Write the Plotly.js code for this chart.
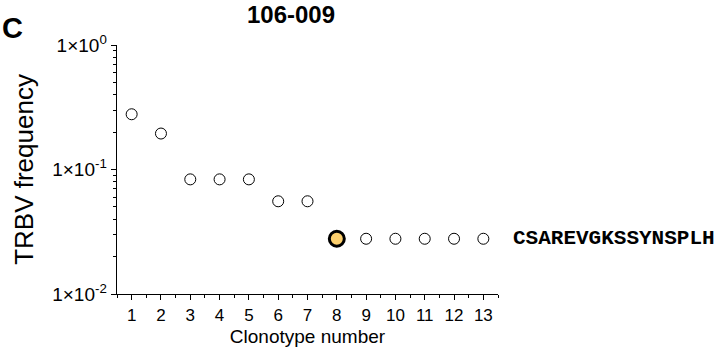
<!DOCTYPE html>
<html>
<head>
<meta charset="utf-8">
<script src="https://cdn.plot.ly/plotly-3.0.1.min.js"></script>
<style>html,body{margin:0;padding:0;background:#fff;}#chart{width:726px;height:349px;}</style>
</head>
<body>
<div id="chart"></div>
<script>
// Clonotype data (frequencies of 36 sequences)
var clonotypes = [1,2,3,4,5,6,7,8,9,10,11,12,13];
var frequency = [10/36, 7/36, 3/36, 3/36, 3/36, 2/36, 2/36, 1/36, 1/36, 1/36, 1/36, 1/36, 1/36];
var highlightIndex = 7; // clonotype 8
var highlightLabel = 'CSAREVGKSSYNSPLH';
var yTickVals = [1, 0.1, 0.01];
var yTickText = ['1×10<sup>0</sup>', '1×10<sup>-1</sup>', '1×10<sup>-2</sup>'];
var xTickVals = clonotypes;
var panelTitle = '106-009';
var panelLetter = 'C';

var otherX = [], otherY = [];
for (var i = 0; i < clonotypes.length; i++) {
  if (i !== highlightIndex) { otherX.push(clonotypes[i]); otherY.push(frequency[i]); }
}

var traces = [
  {
    x: otherX, y: otherY, type: 'scatter', mode: 'markers',
    marker: {symbol: 'circle', size: 11, color: 'white', line: {color: 'black', width: 1}},
    cliponaxis: false, hoverinfo: 'x+y'
  },
  {
    x: [clonotypes[highlightIndex]], y: [frequency[highlightIndex]], type: 'scatter', mode: 'markers',
    marker: {symbol: 'circle', size: 15, color: '#FDD06E', line: {color: 'black', width: 3}},
    cliponaxis: false, hoverinfo: 'x+y'
  }
];

// plot area in pixels: x 117..498, y 45..294
var plotL = 117, plotW = 381, plotB = 294, plotH = 249;

var layout = {
  width: 726, height: 349,
  margin: {l: 117, r: 228, t: 45, b: 55, pad: 0},
  paper_bgcolor: 'white', plot_bgcolor: 'white',
  showlegend: false,
  font: {family: 'Arial, Liberation Sans, sans-serif', color: 'black'},
  title: {
    text: '<b>' + panelTitle + '</b>',
    font: {size: 24, family: 'Arial, Liberation Sans, sans-serif', color: 'black'},
    xref: 'container', yref: 'container', x: 291/726, y: 1 - 15/349,
    xanchor: 'center', yanchor: 'middle'
  },
  xaxis: {
    range: [0.5, 13.5],
    tickmode: 'array', tickvals: xTickVals, ticktext: xTickVals.map(String),
    ticks: 'outside', ticklen: 5, tickwidth: 1, tickcolor: 'black',
    minor: {ticks: 'outside', ticklen: 3, tickwidth: 1, tickcolor: 'black', dtick: 0.5, tick0: 0.5},
    showline: true, linecolor: 'black', linewidth: 1.4,
    showgrid: false, zeroline: false,
    tickfont: {size: 17, family: 'Arial, Liberation Sans, sans-serif'},
    title: {text: 'Clonotype number', font: {size: 19, family: 'Arial, Liberation Sans, sans-serif'}, standoff: 6}
  },
  yaxis: {
    type: 'log', range: [-2, 0],
    tickmode: 'array', tickvals: yTickVals, ticktext: yTickText,
    ticks: 'outside', ticklen: 5, tickwidth: 1, tickcolor: 'black',
    minor: {ticks: 'outside', ticklen: 3, tickwidth: 1, tickcolor: 'black', dtick: 'D1'},
    showline: true, linecolor: 'black', linewidth: 1.4,
    showgrid: false, zeroline: false,
    tickfont: {size: 19, family: 'Arial, Liberation Sans, sans-serif'},
    title: {text: 'TRBV frequency', font: {size: 26, family: 'Arial, Liberation Sans, sans-serif'}, standoff: 11}
  },
  annotations: [
    {
      text: '<b>' + highlightLabel + '</b>',
      x: (511 - plotL) / plotW, xref: 'paper',
      y: Math.log10(frequency[highlightIndex]), yref: 'y',
      xanchor: 'left', yanchor: 'middle', showarrow: false,
      font: {family: 'Courier New, Liberation Mono, monospace', size: 21, color: 'black'}
    },
    {
      text: '<b>' + panelLetter + '</b>',
      xref: 'paper', yref: 'paper', x: -plotL / plotW, y: (plotB - 28) / plotH,
      xanchor: 'left', yanchor: 'middle', showarrow: false,
      font: {family: 'Arial, Liberation Sans, sans-serif', size: 29, color: 'black'}
    }
  ]
};

Plotly.newPlot('chart', traces, layout, {displayModeBar: false, staticPlot: true});
</script>
</body>
</html>
